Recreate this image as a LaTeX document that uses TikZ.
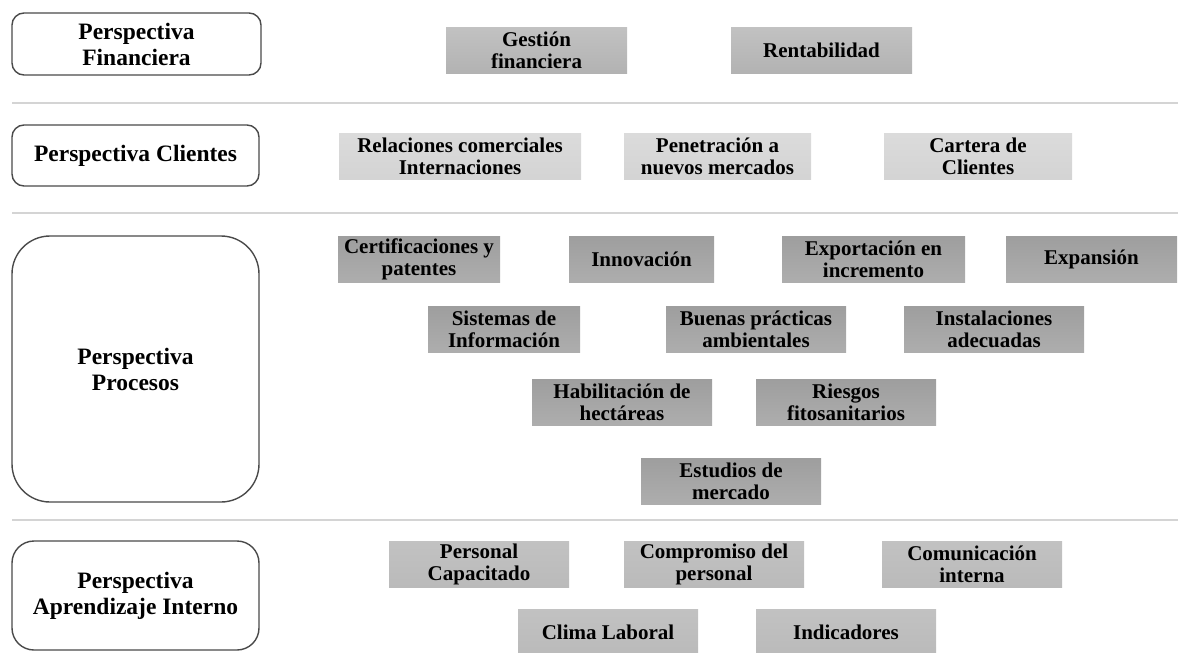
\documentclass[tikz,border=0pt]{standalone}
\usepackage{fontspec}
\setmainfont{Liberation Serif}
\usepackage{tikz}

\definecolor{sepgray}{HTML}{D4D4D4}
\definecolor{framegray}{HTML}{4A4A4A}

\begin{document}
\begin{tikzpicture}[x=1pt, y=-1pt]
	\tikzset{persp/.style = {draw=framegray, line width=1.4pt, fill=white, rounded corners=12pt, align=center, inner sep=0pt, font=\bfseries\fontsize{23.5}{26}\selectfont}}
	\tikzset{goal/.style = {align=center, inner sep=0pt, minimum height=46pt, font=\bfseries\fontsize{21}{22}\selectfont}}
	\tikzset{fin/.style = {goal, top color=black!24, bottom color=black!30}}
	\tikzset{cli/.style = {goal, top color=black!14, bottom color=black!17}}
	\tikzset{proc/.style = {goal, top color=black!38, bottom color=black!32}}
	\tikzset{apr/.style = {goal, top color=black!24, bottom color=black!27}}
	\tikzset{sep/.style = {draw=sepgray, line width=2.5pt}}
	\useasboundingbox (0, 0) rectangle (1178, 653);
	% perspectivas
	\node[persp, minimum width=249pt, minimum height=62pt] (pfin) at (136.5, 44) {Perspectiva\\Financiera};
	\node[persp, minimum width=247pt, minimum height=61pt] (pcli) at (135.5, 155.5) {Perspectiva Clientes};
	\node[persp, minimum width=247pt, minimum height=266pt, rounded corners=38pt] (ppro) at (135.5, 369) {Perspectiva\\Procesos};
	\node[persp, minimum width=247pt, minimum height=109pt, rounded corners=22pt] (papr) at (135.5, 595.5) {Perspectiva\\Aprendizaje Interno};
	\draw[sep] (12, 103) -- (1178, 103);
	\draw[sep] (12, 213) -- (1178, 213);
	\draw[sep] (12, 520) -- (1178, 520);
	% financiera
	\node[fin, minimum width=181pt] (gestion) at (536.5, 50) {Gestión\\financiera};
	\node[fin, minimum width=181pt] (rentab) at (821.5, 50) {Rentabilidad};
	% clientes
	\node[cli, minimum width=242pt] (relac) at (460, 156) {Relaciones comerciales\\Internaciones};
	\node[cli, minimum width=187pt] (penet) at (717.5, 156) {Penetración a\\nuevos mercados};
	\node[cli, minimum width=188pt] (cartera) at (978, 156) {Cartera de\\Clientes};
	% procesos
	\node[proc, minimum width=162pt] (certif) at (419, 259) {Certificaciones y\\patentes};
	\node[proc, minimum width=145pt] (innov) at (641.5, 259) {Innovación};
	\node[proc, minimum width=183pt] (export) at (873.5, 259) {Exportación en\\incremento};
	\node[proc, minimum width=171pt] (expan) at (1091.5, 259) {Expansión};
	\node[proc, minimum width=152pt] (sistemas) at (504, 329) {Sistemas de\\Información};
	\node[proc, minimum width=180pt] (buenas) at (756, 329) {Buenas prácticas\\ambientales};
	\node[proc, minimum width=180pt] (instal) at (994, 329) {Instalaciones\\adecuadas};
	\node[proc, minimum width=180pt] (habil) at (622, 402) {Habilitación de\\hectáreas};
	\node[proc, minimum width=180pt] (riesgos) at (846, 402) {Riesgos\\fitosanitarios};
	\node[proc, minimum width=180pt] (estudios) at (731, 481) {Estudios de\\mercado};
	% aprendizaje
	\node[apr, minimum width=180pt] (personal) at (479, 564) {Personal\\Capacitado};
	\node[apr, minimum width=180pt] (compro) at (714, 564) {Compromiso del\\personal};
	\node[apr, minimum width=180pt] (comunic) at (972, 564) {Comunicación\\interna};
	\node[apr, minimum width=180pt] (clima) at (608, 632) {Clima Laboral};
	\node[apr, minimum width=180pt] (indic) at (846, 632) {Indicadores};
\end{tikzpicture}
\end{document}
